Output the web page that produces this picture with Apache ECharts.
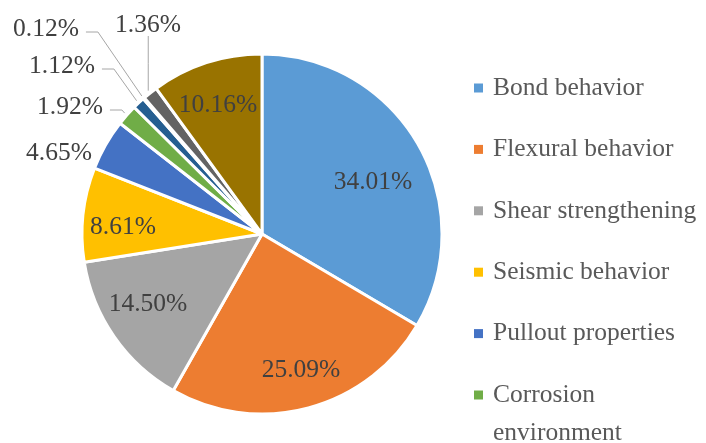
<!DOCTYPE html>
<html>
<head>
<meta charset="utf-8">
<title>Research topics share</title>
<script src="https://cdn.jsdelivr.net/npm/echarts@6/dist/echarts.min.js"></script>
<style>
  html, body { margin: 0; padding: 0; background: #ffffff; }
  #chart { width: 706px; height: 443px; }
</style>
</head>
<body>
<div id="chart"></div>
<script>
// Research topics and their share of the reviewed studies (%)
const categories = [
  'Bond behavior',
  'Flexural behavior',
  'Shear strengthening',
  'Seismic behavior',
  'Pullout properties',
  'Corrosion environment',
  'Fatigue behavior',
  'Fire resistance',
  'Durability',
  'Others'
];
const shares = [34.01, 25.09, 14.50, 8.61, 4.65, 1.92, 1.12, 0.12, 1.36, 10.16];

// Only the first six topics fit in the legend column
const legendNames = categories.slice(0, 6);

const palette = ['#5B9BD5', '#ED7D31', '#A5A5A5', '#FFC000', '#4472C4',
                 '#70AD47', '#255E91', '#9E480E', '#636363', '#997300'];

const CX = 262, CY = 234, R = 180;
const FONT = 'Liberation Serif';
const LEGEND_LINE = 38;
const LEGEND_GAP = 23.4;

// Slices whose label sits outside with a leader line
const outerWithLine = [5, 6, 7, 8];

// Label text anchors (centre of each value label)
const labelSpots = [
  [373, 182], [301, 370], [148, 304], [123, 227], [59, 153],
  [70, 107], [62, 66], [46, 29], [148, 25], [218, 105]
];

const total = shares.reduce((a, b) => a + b, 0);
// mid angle of a slice, clockwise from 12 o'clock
function midAngle(i) {
  let before = 0;
  for (let k = 0; k < i; k++) before += shares[k];
  return (before + shares[i] / 2) / total * Math.PI * 2;
}
function rimPoint(i, r) {
  const a = midAngle(i);
  return [CX + r * Math.sin(a), CY - r * Math.cos(a)];
}

const pieData = categories.map((name, i) => ({
  name: name,
  value: shares[i],
  labelLine: { show: outerWithLine.indexOf(i) >= 0 }
}));

const legendFont = {
  fontFamily: FONT,
  fontSize: 25.5,
  color: '#595959',
  lineHeight: LEGEND_LINE
};
const legendBase = {
  orient: 'vertical',
  left: 474,
  padding: 0,
  itemGap: LEGEND_GAP,
  itemWidth: 9,
  itemHeight: 9,
  icon: 'rect',
  itemStyle: { borderWidth: 0 }
};
const LEGEND_TOP = 69;
// swatch of the wrapped entry follows the column pitch
const wrappedSwatchTop = LEGEND_TOP + 19 - 4.5 + 5 * (LEGEND_LINE + LEGEND_GAP);

const chart = echarts.init(document.getElementById('chart'), null, { renderer: 'canvas' });

chart.setOption({
  backgroundColor: '#ffffff',
  color: palette,
  animation: false,
  legend: [
    Object.assign({}, legendBase, {
      top: LEGEND_TOP,
      data: legendNames.slice(0, 5),
      textStyle: Object.assign({}, legendFont, { padding: [0, 0, 0, 5] })
    }),
    // two-line entry: text pushed down so its first line sits beside the swatch
    Object.assign({}, legendBase, {
      top: wrappedSwatchTop + 4.5 - (3 * LEGEND_LINE) / 2,
      data: legendNames.slice(5),
      formatter: name => '{t|' + name + '}',
      textStyle: Object.assign({}, legendFont, {
        width: 212,
        overflow: 'break',
        padding: [LEGEND_LINE, 0, 0, 5],
        rich: { t: legendFont }
      })
    })
  ],
  series: [{
    type: 'pie',
    center: [CX, CY],
    radius: [0, R],
    startAngle: 90,
    clockwise: true,
    avoidLabelOverlap: false,
    itemStyle: { borderColor: '#ffffff', borderWidth: 3 },
    emphasis: { disabled: true },
    label: {
      show: true,
      position: 'outside',
      fontFamily: FONT,
      fontSize: 25.5,
      color: '#404040',
      formatter: p => p.value.toFixed(2) + '%'
    },
    labelLine: {
      show: true,
      length: 10,
      length2: 10,
      lineStyle: { color: '#A6A6A6', width: 1 }
    },
    labelLayout: function (params) {
      const i = params.dataIndex;
      const spot = labelSpots[i];
      const out = { x: spot[0], y: spot[1], align: 'center', verticalAlign: 'middle' };
      if (outerWithLine.indexOf(i) >= 0) {
        const w = params.labelRect.width;
        const h = params.labelRect.height;
        const rim = rimPoint(i, 183);
        if (i === 8) {
          // label sits straight above its slice
          const top = spot[1] + h / 2 - 2;
          out.labelLinePoints = [rim, [rim[0], (rim[1] + top) / 2], [rim[0], top]];
        } else {
          const ly = spot[1] + 3;
          const start = spot[0] + w / 2 + 7;
          out.labelLinePoints = [rim, [start + 12, ly], [start, ly]];
        }
      }
      return out;
    },
    data: pieData
  }]
});
</script>
</body>
</html>
